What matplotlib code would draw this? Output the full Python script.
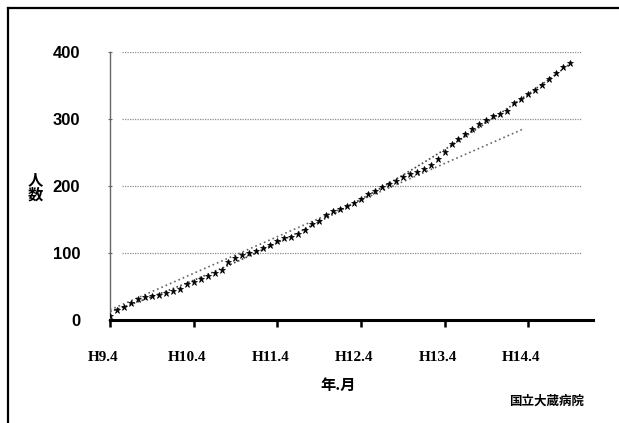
import numpy as np
import matplotlib.pyplot as plt
import matplotlib.transforms as mtransforms
from matplotlib.lines import Line2D

# months counted from H9.4, patient counts
months = list(range(0, 67))
counts = [6, 15, 20, 25, 32, 35, 36, 37, 40, 44,
          47, 53, 56, 61, 66, 70, 74, 86, 93, 97,
          100, 103, 107, 112, 118, 122, 124, 128, 135, 143,
          148, 157, 162, 166, 170, 174, 181, 188, 193, 198,
          203, 208, 213, 218, 221, 226, 231, 240, 251, 262,
          270, 278, 285, 292, 299, 304, 307, 312, 324, 330,
          338, 344, 350, 360, 368, 378, 384]

# straight dotted reference line (start / end)
line_months = [0, 59.5]
line_values = [15, 286]

tick_months = [0, 12, 24, 36, 48, 60]
tick_labels = ["H9.4", "H10.4", "H11.4", "H12.4", "H13.4", "H14.4"]
y_ticks = [0, 100, 200, 300, 400]

fig = plt.figure(figsize=(6.19, 4.23), dpi=100)
ax = fig.add_axes([110 / 619, 103 / 423, 483 / 619, 268 / 423])

# gridlines
for yv in y_ticks[1:]:
    ax.axhline(yv, xmin=0.025, xmax=0.975, color="#8c8c8c", lw=0.9,
               linestyle=(0, (1, 1)), zorder=1)

# quadratic trend through the data
coef = np.polyfit(months, counts, 2)
xs = np.linspace(months[0], months[-1], 200)
ax.plot(xs, np.polyval(coef, xs), color="#444444", lw=1.2,
        linestyle=(0, (1, 1.5)), zorder=2)

# straight line
ax.plot(line_months, line_values, color="#666666", lw=1.2,
        linestyle=(0, (1, 1.8)), zorder=2)

# data points
ax.plot(months, counts, linestyle="none", marker="*", ms=4.8,
        color="black", mec="black", mew=0.5, zorder=3)

ax.set_xlim(0, 69.3)
ax.set_ylim(0, 400)

for s in ["top", "right"]:
    ax.spines[s].set_visible(False)
ax.spines["bottom"].set_linewidth(2.2)
ax.spines["bottom"].set_color("black")
ax.spines["left"].set_linestyle((0, (1, 1)))
ax.spines["left"].set_color("#666666")
ax.spines["left"].set_linewidth(1.0)

ax.set_xticks(tick_months)
ax.set_xticklabels(tick_labels, fontfamily="Liberation Serif",
                   fontweight="bold", fontsize=11)
ax.tick_params(axis="x", direction="out", length=5, width=1.8,
               pad=17, color="black")
shift = mtransforms.ScaledTranslation(-0.07, 0, fig.dpi_scale_trans)
for lab in ax.get_xticklabels():
    lab.set_transform(lab.get_transform() + shift)

ax.set_yticks(y_ticks)
ax.set_yticklabels([str(v) for v in y_ticks], fontfamily="Liberation Sans",
                   fontweight="bold", fontsize=12)
ax.tick_params(axis="y", direction="inout", length=3, width=0.8,
               pad=20, color="#666666")

cjk = ["Noto Sans CJK JP", "DejaVu Sans"]
fig.text(35 / 619, 1 - 187 / 423, "人\n数", family=cjk, fontweight="bold",
         fontsize=11, ha="center", va="center", linespacing=1.0)
fig.text(338 / 619, 1 - 385 / 423, "年.月", family=cjk, fontweight="bold",
         fontsize=11, ha="center", va="center")
fig.text(547 / 619, 1 - 401 / 423, "国立大蔵病院", family=cjk,
         fontweight="bold", fontsize=9, ha="center", va="center")

# scan frame (top and left edges)
fig.add_artist(Line2D([8 / 619, 1], [1 - 8 / 423, 1 - 8 / 423],
                      transform=fig.transFigure, color="black", lw=1.6))
fig.add_artist(Line2D([8 / 619, 8 / 619], [0, 1 - 8 / 423],
                      transform=fig.transFigure, color="black", lw=1.6))

fig.savefig("out.png", dpi=100)
